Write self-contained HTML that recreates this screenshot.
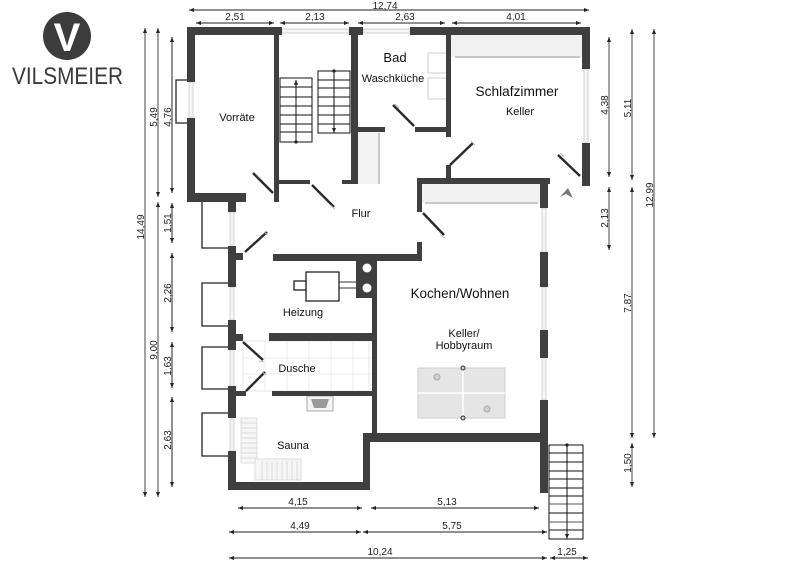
<!DOCTYPE html>
<html><head><meta charset="utf-8"><style>
html,body{margin:0;padding:0;background:#fff;}
svg{display:block;}
text{font-family:"Liberation Sans",Arial,sans-serif;}
</style></head><body>
<svg width="800" height="566" viewBox="0 0 800 566" xmlns="http://www.w3.org/2000/svg">
<defs>
<marker id="a" viewBox="0 0 6 6" refX="6" refY="3" markerWidth="5" markerHeight="5" orient="auto-start-reverse" markerUnits="userSpaceOnUse"><path d="M0,0.6 L6,3 L0,5.4z" fill="#222"/></marker>
<marker id="d" viewBox="0 0 6 6" refX="3" refY="3" markerWidth="4" markerHeight="4" markerUnits="userSpaceOnUse"><circle cx="3" cy="3" r="2.5" fill="#222"/></marker>
</defs>
<rect width="800" height="566" fill="#fff"/>

<!-- Logo -->
<circle cx="67" cy="36" r="24" fill="#3c3c3c"/>
<text x="67" y="51" text-anchor="middle" font-size="40" font-weight="bold" fill="#fff">V</text>
<text x="12" y="84" font-size="24" fill="#3a3a3a" textLength="111" lengthAdjust="spacingAndGlyphs">VILSMEIER</text>

<!-- fixtures (light) -->
<g>
<rect x="451" y="35" width="131" height="22" fill="#f1f1f1"/>
<line x1="455" y1="57" x2="580" y2="57" stroke="#c8c8c8" stroke-width="2"/>
<rect x="422" y="184" width="118" height="19" fill="#f1f1f1"/>
<line x1="425" y1="203" x2="538" y2="203" stroke="#c8c8c8" stroke-width="2"/>
<rect x="358" y="132" width="22" height="52" fill="#f3f3f3"/>
<line x1="379" y1="133" x2="379" y2="184" stroke="#c8c8c8" stroke-width="2"/>
<rect x="428" y="53" width="19" height="20" fill="#fff" stroke="#cfcfcf"/>
<rect x="428" y="78" width="19" height="21" fill="#fff" stroke="#cfcfcf"/>
<!-- shower tiles -->
<g stroke="#eeeeee" stroke-width="1">
<line x1="243" y1="358" x2="372" y2="358"/><line x1="243" y1="374" x2="372" y2="374"/>
<line x1="265" y1="341" x2="265" y2="391"/><line x1="287" y1="341" x2="287" y2="391"/><line x1="309" y1="341" x2="309" y2="391"/><line x1="331" y1="341" x2="331" y2="391"/><line x1="353" y1="341" x2="353" y2="391"/>
</g>
<rect x="243" y="341" width="126" height="50" fill="none" stroke="#e6e6e6"/>
<!-- sauna bench -->
<rect x="241" y="418" width="16" height="45" fill="#f6f6f6" stroke="#dcdcdc"/>
<rect x="255" y="459" width="46" height="21" fill="#f6f6f6" stroke="#dcdcdc"/>
<g stroke="#d4d4d4" stroke-width="0.8">
<line x1="241" y1="423" x2="257" y2="423"/><line x1="241" y1="428" x2="257" y2="428"/><line x1="241" y1="433" x2="257" y2="433"/><line x1="241" y1="438" x2="257" y2="438"/><line x1="241" y1="443" x2="257" y2="443"/><line x1="241" y1="448" x2="257" y2="448"/><line x1="241" y1="453" x2="257" y2="453"/><line x1="241" y1="458" x2="257" y2="458"/>
<line x1="262" y1="461" x2="262" y2="480"/><line x1="267" y1="461" x2="267" y2="480"/><line x1="272" y1="461" x2="272" y2="480"/><line x1="277" y1="461" x2="277" y2="480"/><line x1="282" y1="461" x2="282" y2="480"/><line x1="287" y1="461" x2="287" y2="480"/><line x1="292" y1="461" x2="292" y2="480"/><line x1="297" y1="461" x2="297" y2="480"/>
</g>
<!-- basin -->
<rect x="307" y="396" width="26" height="15" fill="#f4f4f4" stroke="#aaa"/>
<path d="M311,399 L329,399 L326,408 L314,408z" fill="#999"/>
<!-- table -->
<rect x="418" y="368" width="87" height="50" fill="#e5e5e5" stroke="#cfcfcf"/>
<line x1="463" y1="368" x2="463" y2="418" stroke="#fff" stroke-width="1.5"/>
<line x1="418" y1="393" x2="505" y2="393" stroke="#fff" stroke-width="1.5"/>
<circle cx="463" cy="368" r="2" fill="#ccc" stroke="#333"/>
<circle cx="463" cy="418" r="2" fill="#ccc" stroke="#333"/>
<circle cx="437" cy="377" r="3" fill="#d0d0d0" stroke="#aaa"/>
<circle cx="487" cy="409" r="3" fill="#d0d0d0" stroke="#aaa"/>
<!-- boiler -->
<rect x="306" y="272" width="33" height="29" fill="#fff" stroke="#111" stroke-width="1.2"/>
<rect x="294" y="281" width="12" height="9" fill="#fff" stroke="#111" stroke-width="1.2"/>
<line x1="339" y1="282" x2="357" y2="282" stroke="#333"/>
<line x1="339" y1="288" x2="357" y2="288" stroke="#333"/>
</g>

<!-- windows -->
<g fill="#f4f4f4" stroke="#d2d2d2" stroke-width="1">
<rect x="282" y="29" width="67" height="4"/>
<rect x="363" y="29" width="47" height="4"/>
<rect x="189" y="82" width="4" height="36"/>
<rect x="584" y="69" width="4" height="74"/>
<rect x="542" y="208" width="4" height="44"/>
<rect x="542" y="287" width="4" height="43"/>
<rect x="542" y="358" width="4" height="42"/>
<rect x="230" y="212" width="4" height="34"/>
<rect x="230" y="287" width="4" height="33"/>
<rect x="230" y="350" width="4" height="36"/>
<rect x="230" y="418" width="4" height="33"/>
</g>

<!-- outside bumps -->
<g fill="none" stroke="#222" stroke-width="1.3">
<path d="M187,80 L176,80 L176,123 L187,123"/>
<path d="M202,202 L202,248 L228,248"/>
<path d="M228,283 L202,283 L202,326 L228,326"/>
<path d="M228,347 L202,347 L202,389 L228,389"/>
<path d="M228,413 L202,413 L202,456 L228,456"/>
</g>

<!-- walls -->
<g fill="#3f3f3f">
<rect x="187" y="27" width="95" height="8"/>
<rect x="349" y="27" width="14" height="8"/>
<rect x="410" y="27" width="180" height="8"/>
<rect x="582" y="27" width="8" height="42"/>
<rect x="582" y="143" width="8" height="43"/>
<rect x="187" y="27" width="8" height="55"/>
<rect x="187" y="118" width="8" height="84"/>
<rect x="187" y="193" width="59" height="9"/>
<rect x="274" y="35" width="5" height="167"/>
<rect x="279" y="180" width="31" height="4"/>
<rect x="351" y="27" width="7" height="157"/>
<rect x="342" y="180" width="16" height="4"/>
<rect x="358" y="127" width="27" height="5"/>
<rect x="415" y="127" width="36" height="5"/>
<rect x="446" y="35" width="5" height="102"/>
<rect x="446" y="165" width="5" height="13"/>
<rect x="417" y="178" width="133" height="6"/>
<rect x="417" y="178" width="5" height="34"/>
<rect x="417" y="242" width="5" height="19"/>
<rect x="273" y="254" width="149" height="7"/>
<rect x="356" y="260" width="21" height="38"/>
<rect x="372" y="260" width="5" height="173"/>
<rect x="269" y="333" width="103" height="8"/>
<rect x="272" y="391" width="100" height="5"/>
<rect x="363" y="433" width="185" height="9"/>
<rect x="363" y="433" width="7" height="57"/>
<rect x="228" y="482" width="142" height="8"/>
<rect x="540" y="178" width="8" height="30"/>
<rect x="540" y="252" width="8" height="35"/>
<rect x="540" y="330" width="8" height="28"/>
<rect x="540" y="400" width="8" height="93"/>
<rect x="228" y="202" width="8" height="10"/>
<rect x="228" y="246" width="8" height="41"/>
<rect x="228" y="320" width="8" height="30"/>
<rect x="228" y="386" width="8" height="32"/>
<rect x="228" y="451" width="8" height="39"/>
<rect x="236" y="253" width="7" height="7"/>
<rect x="236" y="334" width="7" height="7"/>
<rect x="236" y="391" width="10" height="5"/>
</g>
<circle cx="367" cy="268" r="4.5" fill="#fff"/>
<circle cx="367" cy="288" r="4.5" fill="#fff"/>

<!-- doors -->
<g stroke="#2a2a2a" stroke-width="2.4" stroke-linecap="butt">
<line x1="273" y1="193" x2="253" y2="173"/>
<line x1="312" y1="185" x2="334" y2="207"/>
<line x1="393" y1="105" x2="414" y2="126"/>
<line x1="450" y1="165" x2="473" y2="143"/>
<line x1="558" y1="155" x2="580" y2="176"/>
<line x1="423" y1="213" x2="444" y2="235"/>
<line x1="245" y1="252" x2="267" y2="232"/>
<line x1="243" y1="342" x2="263" y2="360"/>
<line x1="246" y1="391" x2="265" y2="372"/>
</g>
<g stroke="#bbb" stroke-width="1">
<line x1="256" y1="174" x2="260" y2="178"/>
<line x1="330" y1="205" x2="335" y2="209"/>
<line x1="395" y1="104" x2="399" y2="108"/>
<line x1="471" y1="141" x2="475" y2="145"/>
<line x1="560" y1="153" x2="564" y2="157"/>
<line x1="440" y1="235" x2="445" y2="238"/>
<line x1="264" y1="232" x2="268" y2="235"/>
<line x1="259" y1="361" x2="264" y2="362"/>
<line x1="262" y1="372" x2="266" y2="375"/>
</g>
<polygon points="560,197 568,188 573,198 566,194" fill="#777"/>

<!-- stairs -->
<g fill="#fff" stroke="#111" stroke-width="1">
<rect x="280" y="78" width="32" height="64"/>
<rect x="318" y="71" width="32" height="62"/>
<rect x="549" y="445" width="34" height="94"/>
</g>
<g stroke="#111" stroke-width="1">
<line x1="280" y1="87" x2="312" y2="87"/><line x1="280" y1="97" x2="312" y2="97"/><line x1="280" y1="106" x2="312" y2="106"/><line x1="280" y1="115" x2="312" y2="115"/><line x1="280" y1="124" x2="312" y2="124"/><line x1="280" y1="132" x2="312" y2="132"/>
<line x1="318" y1="80" x2="350" y2="80"/><line x1="318" y1="88" x2="350" y2="88"/><line x1="318" y1="97" x2="350" y2="97"/><line x1="318" y1="106" x2="350" y2="106"/><line x1="318" y1="115" x2="350" y2="115"/><line x1="318" y1="124" x2="350" y2="124"/>
<line x1="549" y1="453" x2="583" y2="453"/><line x1="549" y1="462" x2="583" y2="462"/><line x1="549" y1="471" x2="583" y2="471"/><line x1="549" y1="479" x2="583" y2="479"/><line x1="549" y1="488" x2="583" y2="488"/><line x1="549" y1="496" x2="583" y2="496"/><line x1="549" y1="504" x2="583" y2="504" stroke="#555"/><line x1="549" y1="513" x2="583" y2="513"/><line x1="549" y1="522" x2="583" y2="522" stroke="#555"/><line x1="549" y1="530" x2="583" y2="530"/>
<line x1="296" y1="142" x2="296" y2="80" marker-start="url(#d)" marker-end="url(#a)"/>
<line x1="334" y1="71" x2="334" y2="133" marker-start="url(#d)" marker-end="url(#a)"/>
<line x1="567" y1="445" x2="567" y2="539" marker-start="url(#d)" marker-end="url(#a)"/>
</g>

<!-- dimension lines -->
<g stroke="#222" stroke-width="1" marker-start="url(#a)" marker-end="url(#a)">
<line x1="189" y1="10" x2="589" y2="10"/>
<line x1="196" y1="23" x2="274" y2="23"/>
<line x1="280" y1="23" x2="349" y2="23"/>
<line x1="358" y1="23" x2="445" y2="23"/>
<line x1="452" y1="23" x2="581" y2="23"/>
<line x1="145" y1="28" x2="145" y2="497" stroke="#444"/>
<line x1="158" y1="28" x2="158" y2="197" stroke="#444"/>
<line x1="158" y1="202" x2="158" y2="497" stroke="#444"/>
<line x1="172" y1="37" x2="172" y2="193"/>
<line x1="172" y1="203" x2="172" y2="243"/>
<line x1="172" y1="253" x2="172" y2="332"/>
<line x1="172" y1="342" x2="172" y2="388"/>
<line x1="172" y1="397" x2="172" y2="487"/>
<line x1="609" y1="37" x2="609" y2="177" stroke="#444"/>
<line x1="609" y1="187" x2="609" y2="250" stroke="#444"/>
<line x1="632" y1="29" x2="632" y2="180" stroke="#444"/>
<line x1="632" y1="187" x2="632" y2="438" stroke="#444"/>
<line x1="632" y1="443" x2="632" y2="487" stroke="#444"/>
<line x1="654" y1="29" x2="654" y2="438" stroke="#444"/>
<line x1="238" y1="508" x2="362" y2="508"/>
<line x1="371" y1="508" x2="539" y2="508"/>
<line x1="229" y1="532" x2="361" y2="532"/>
<line x1="363" y1="532" x2="547" y2="532"/>
<line x1="229" y1="558" x2="547" y2="558"/>
<line x1="550" y1="558" x2="588" y2="558"/>
</g>

<!-- dimension texts -->
<g font-size="10" fill="#222" text-anchor="middle">
<text x="385" y="9">12,74</text>
<text x="235" y="20">2,51</text>
<text x="315" y="20">2,13</text>
<text x="405" y="20">2,63</text>
<text x="516" y="20">4,01</text>
<text x="298" y="505">4,15</text>
<text x="447" y="505">5,13</text>
<text x="300" y="529">4,49</text>
<text x="452" y="529">5,75</text>
<text x="380" y="555">10,24</text>
<text x="567" y="555">1,25</text>
<text transform="translate(144,227) rotate(-90)">14,49</text>
<text transform="translate(157,117) rotate(-90)">5,49</text>
<text transform="translate(157,350) rotate(-90)">9,00</text>
<text transform="translate(171,117) rotate(-90)">4,76</text>
<text transform="translate(171,223) rotate(-90)">1,51</text>
<text transform="translate(171,293) rotate(-90)">2,26</text>
<text transform="translate(171,366) rotate(-90)">1,63</text>
<text transform="translate(171,440) rotate(-90)">2,63</text>
<text transform="translate(608,105) rotate(-90)">4,38</text>
<text transform="translate(608,218) rotate(-90)">2,13</text>
<text transform="translate(631,108) rotate(-90)">5,11</text>
<text transform="translate(631,303) rotate(-90)">7,87</text>
<text transform="translate(631,463) rotate(-90)">1,50</text>
<text transform="translate(653,195) rotate(-90)">12,99</text>
</g>

<!-- room labels -->
<g fill="#111" text-anchor="middle" font-size="11">
<text x="237" y="121">Vorräte</text>
<text x="395" y="62" font-size="13">Bad</text>
<text x="393" y="82">Waschküche</text>
<text x="517" y="96" font-size="13.7">Schlafzimmer</text>
<text x="520" y="115">Keller</text>
<text x="361" y="217">Flur</text>
<text x="460" y="298" font-size="13.4">Kochen/Wohnen</text>
<text x="464" y="337">Keller/</text>
<text x="464" y="349">Hobbyraum</text>
<text x="303" y="316">Heizung</text>
<text x="297" y="372">Dusche</text>
<text x="293" y="449">Sauna</text>
</g>
</svg>
</body></html>
